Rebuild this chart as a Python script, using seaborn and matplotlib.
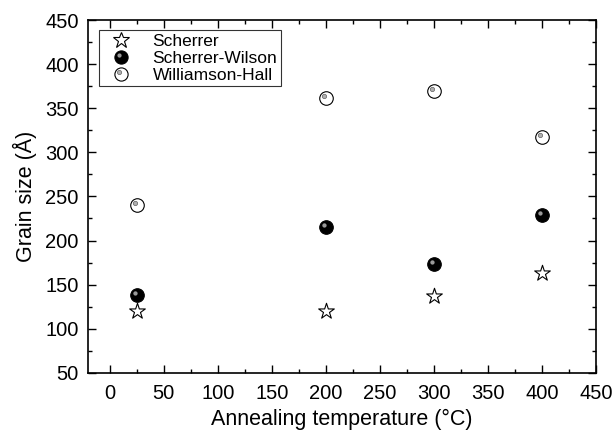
import numpy as np
import pandas as pd
import matplotlib
matplotlib.use("Agg")
import matplotlib.pyplot as plt
from matplotlib.path import Path
from matplotlib.legend_handler import HandlerTuple
import seaborn as sns

temps = [25, 200, 300, 400]
scherrer = [120, 120, 137, 163]
scherrer_wilson = [138, 215, 173, 229]
williamson_hall = [240, 362, 369, 317]

sns.set_theme(style="ticks")
plt.rcParams['font.family'] = ['Liberation Sans', 'DejaVu Sans']
plt.rcParams['xtick.direction'] = 'in'
plt.rcParams['ytick.direction'] = 'in'
plt.rcParams['text.color'] = 'black'
plt.rcParams['axes.labelcolor'] = 'black'

fig, ax = plt.subplots(figsize=(6.13, 4.36), dpi=100)
fig.subplots_adjust(left=0.144, right=0.972, top=0.954, bottom=0.145)

# highlight marker path (small offset dot), scaled by dummy corner vertices
t = np.linspace(0, 2 * np.pi, 30)
hv = np.column_stack([-0.3 + 0.32 * np.cos(t), 0.3 + 0.32 * np.sin(t)])
verts = np.vstack([[[1, 1]], [[-1, -1]], hv])
codes = [Path.MOVETO, Path.MOVETO, Path.MOVETO] + [Path.LINETO] * (len(hv) - 2) + [Path.CLOSEPOLY]
hl_path = Path(verts, codes)

df_s = pd.DataFrame({"T": temps, "v": scherrer})
df_sw = pd.DataFrame({"T": temps, "v": scherrer_wilson})
df_wh = pd.DataFrame({"T": temps, "v": williamson_hall})

sns.scatterplot(data=df_s, x="T", y="v", ax=ax, marker="*", s=140,
                facecolor="white", edgecolor="black", linewidth=0.8, zorder=3)
sns.scatterplot(data=df_sw, x="T", y="v", ax=ax, marker="o", s=95,
                color="black", edgecolor="black", linewidth=0.8, zorder=3)
sns.scatterplot(data=df_wh, x="T", y="v", ax=ax, marker="o", s=95,
                facecolor="white", edgecolor="black", linewidth=0.8, zorder=3)
# sphere highlights
ax.scatter(df_sw["T"], df_sw["v"], marker=hl_path, s=95, color="#9a9a9a", linewidths=0, zorder=4)
ax.scatter(df_wh["T"], df_wh["v"], marker=hl_path, s=95, color="#b0b0b0", edgecolor="#606060",
           linewidths=0.5, zorder=4)

ax.set_xlim(-20, 450)
ax.set_ylim(50, 450)
ax.set_xticks(np.arange(0, 451, 50))
ax.set_yticks(np.arange(50, 451, 50))
ax.set_xticks(np.arange(25, 451, 50), minor=True)
ax.set_yticks(np.arange(75, 451, 50), minor=True)
ax.tick_params(which="both", top=True, right=True, direction="in", labelsize=14.5,
               colors="black", labelcolor="black")
ax.tick_params(which="major", length=6, width=1)
ax.tick_params(axis="x", which="major", pad=8)
ax.tick_params(axis="y", which="major", pad=7)
ax.tick_params(which="minor", length=3, width=1)
for sp in ax.spines.values():
    sp.set_linewidth(1.2)
    sp.set_color("black")

ax.set_xlabel("Annealing temperature (°C)", fontsize=15.5, labelpad=4, color="black")
ax.set_ylabel("Grain size (Å)", fontsize=15.5, labelpad=6, color="black")

# legend handles
h_s = plt.Line2D([], [], ls="", marker="*", ms=12, mfc="white", mec="black", mew=0.8)
h_sw = plt.Line2D([], [], ls="", marker="o", ms=9.5, mfc="black", mec="black", mew=0.8)
h_swh = plt.Line2D([], [], ls="", marker=hl_path, ms=9.5, mfc="#9a9a9a", mec="#9a9a9a", mew=0)
h_wh = plt.Line2D([], [], ls="", marker="o", ms=9.5, mfc="white", mec="black", mew=0.8)
h_whh = plt.Line2D([], [], ls="", marker=hl_path, ms=9.5, mfc="#b0b0b0", mec="#606060", mew=0.5)

leg = ax.legend(handles=[h_s, (h_sw, h_swh), (h_wh, h_whh)],
                labels=["Scherrer", "Scherrer-Wilson", "Williamson-Hall"],
                handler_map={tuple: HandlerTuple(ndivide=1)},
                loc="upper left", fontsize=12.5, frameon=True, fancybox=False,
                edgecolor="black", borderpad=0.2, labelspacing=0.1, handletextpad=0.7,
                borderaxespad=0.6, handlelength=2.2, labelcolor="black")
leg.get_frame().set_linewidth(0.8)

fig.savefig("out.png", dpi=100)
